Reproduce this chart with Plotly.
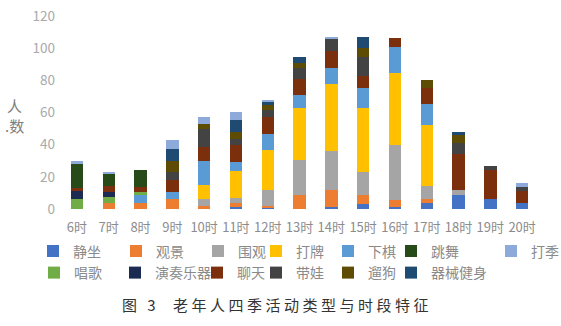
import plotly.graph_objects as go

hours = ["6时", "7时", "8时", "9时", "10时", "11时", "12时", "13时", "14时",
         "15时", "16时", "17时", "18时", "19时", "20时"]

jingzuo = [0, 0, 0, 0, 0, 1, 1, 0, 1, 3, 1, 3.5, 9, 6, 3.5]
guanjing = [0, 3.5, 3.5, 6, 2, 3, 1, 9, 11, 6, 4.5, 2.5, 0, 0, 0]
weiguan = [0, 0, 0, 0, 4, 3, 10, 21.5, 24, 14, 34.5, 8.5, 3, 0, 0]
dapai = [0, 0, 0, 0, 9, 16.5, 24.5, 32, 41.5, 39.5, 44.5, 37.5, 0, 0, 0]
xiaqi = [0, 0, 5, 4.5, 15, 6, 10, 8.5, 10, 12.5, 16.5, 13, 0, 0, 0]
tiaowu = [15, 7, 10.5, 0, 0, 0, 0, 0, 0, 0, 0, 0, 0, 0, 0]
daji = [2, 1.5, 0, 5.5, 4.5, 5, 1.5, 0, 1.5, 0, 0, 0, 0, 0, 2.5]
changge = [6, 4, 2, 0, 0, 0, 0, 0, 0, 0, 0, 0, 0, 0, 0]
yanzou = [5, 3, 0, 0, 0, 0, 0, 0, 0, 0, 0, 0, 0, 0, 0]
liaotian = [2, 4, 3, 7.5, 8.5, 10.5, 10.5, 10, 10.5, 7.5, 5.5, 10.5, 22.5, 18, 7.5]
daiwa = [0, 0, 0, 5, 11.5, 3.5, 4.5, 6.5, 7.5, 12, 0, 0, 6.5, 3, 2.5]
liugou = [0, 0, 0, 7, 3, 4.5, 3, 3, 0, 5.5, 0, 4.5, 5, 0, 0]
qixie = [0, 0, 0, 7.5, 0, 7.5, 2, 4, 0, 7, 0, 0, 2, 0, 0]

# (name, values, color) in stacking order
series = [
    ("静坐", jingzuo, "#4472C4"),
    ("观景", guanjing, "#ED7D31"),
    ("围观", weiguan, "#A5A5A5"),
    ("打牌", dapai, "#FFC000"),
    ("下棋", xiaqi, "#5B9BD5"),
    ("唱歌", changge, "#70AD47"),
    ("演奏乐器", yanzou, "#1C2B52"),
    ("聊天", liaotian, "#7B2F0C"),
    ("带娃", daiwa, "#434343"),
    ("遛狗", liugou, "#5E4C04"),
    ("器械健身", qixie, "#1F4B73"),
    ("跳舞", tiaowu, "#264A18"),
    ("打季", daji, "#8EAADB"),
]

# legend text-start positions (px) in the 561x326 canvas
legend_pos = {
    "静坐": (73, 251.5), "观景": (156, 251.5), "围观": (238, 251.5),
    "打牌": (296, 251.5), "下棋": (368, 251.5), "跳舞": (431, 251.5),
    "打季": (531, 251.5),
    "唱歌": (74, 273), "演奏乐器": (155, 273), "聊天": (237, 273),
    "带娃": (296, 273), "遛狗": (368, 273), "器械健身": (431, 273),
}

W, H = 561, 326
fig = go.Figure()
layout_legends = {}
for i, (name, vals, color) in enumerate(series):
    key = "legend" if i == 0 else f"legend{i + 1}"
    tx, ty = legend_pos[name]
    fig.add_trace(go.Bar(
        x=hours, y=vals, name=name, marker=dict(color=color, line=dict(width=0)),
        legend=key,
    ))
    layout_legends[key] = dict(
        xref="container", yref="container",
        x=(tx - 40) / W, y=1 - ty / H, xanchor="left", yanchor="middle",
        bgcolor="rgba(0,0,0,0)", borderwidth=0, itemwidth=30,
        font=dict(family="Noto Sans CJK SC", size=14, color="#8A8A8A"),
    )

fig.update_layout(
    barmode="stack",
    bargap=0.61,
    width=W, height=H,
    margin=dict(l=61, r=23, t=16, b=117, autoexpand=False),
    plot_bgcolor="white", paper_bgcolor="white",
    showlegend=True,
    font=dict(family="Noto Sans CJK SC", color="#8C8C8C"),
    xaxis=dict(showgrid=False, showline=False, zeroline=False, ticks="",
               ticklabelstandoff=9,
               tickfont=dict(size=13, color="#8C8C8C")),
    yaxis=dict(range=[0, 120], dtick=20, showgrid=False, showline=False,
               zeroline=False, ticks="", ticklabelstandoff=5,
               tickfont=dict(size=13.5, color="#AAAAAA")),
    annotations=[
        dict(text="人<br>.数", xref="paper", yref="paper", x=-0.0965, y=0.486,
             showarrow=False, font=dict(size=15, color="#808080"),
             xanchor="center", yanchor="middle", align="center"),
        dict(text='<span style="letter-spacing:3.5px">图 3  老年人四季活动类型与时段特征</span>',
             xref="paper", yref="paper", x=0.452, y=-0.497,
             showarrow=False, font=dict(size=15, color="#333333",
                                        family="Noto Sans CJK SC"),
             xanchor="center", yanchor="middle"),
    ],
    **layout_legends,
)

fig.write_html("out.html")
